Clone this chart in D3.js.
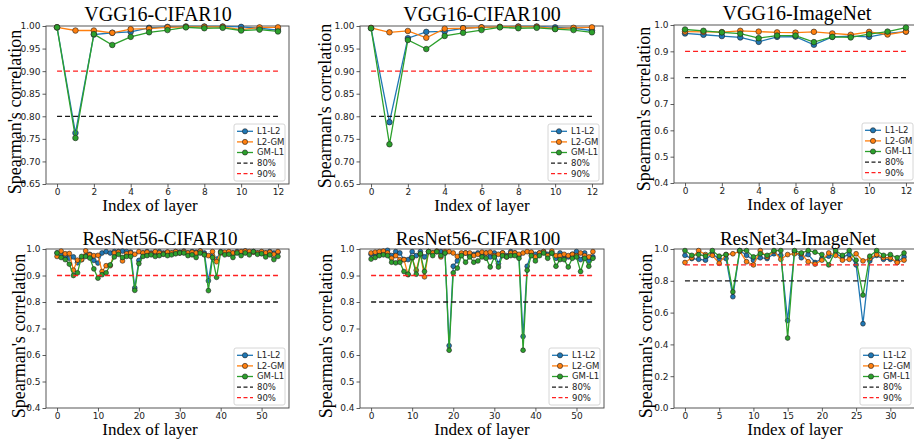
<!DOCTYPE html>
<html><head><meta charset="utf-8">
<script src="https://cdn.jsdelivr.net/npm/d3@7"></script>
<style>body{margin:0;background:#fff}svg{display:block}</style>
</head><body>
<svg id="c" width="914" height="439"></svg>
<script>
// ---------------- DATA ----------------
const seriesNames = ["L1-L2", "L2-GM", "GM-L1"];
const refNames = ["80%", "90%"];
const refValues = [0.8, 0.9];
const panelTitles = ["VGG16-CIFAR10", "VGG16-CIFAR100", "VGG16-ImageNet",
                     "ResNet56-CIFAR10", "ResNet56-CIFAR100", "ResNet34-ImageNet"];
const xAxisLabel = "Index of layer";
const yAxisLabel = "Spearman's correlation";

// VGG16-CIFAR10
const vggC10_L1L2 = [0.997,0.763,0.981,0.985,0.987,0.996,0.998,0.999,0.999,0.999,0.998,0.995,0.991];
const vggC10_L2GM = [0.997,0.990,0.990,0.985,0.993,0.994,0.997,0.998,0.998,0.998,0.992,0.997,0.997];
const vggC10_GML1 = [0.997,0.752,0.982,0.958,0.976,0.986,0.991,0.997,0.995,0.996,0.990,0.992,0.988];
// VGG16-CIFAR100
const vggC100_L1L2 = [0.995,0.787,0.973,0.987,0.988,0.995,0.997,0.998,0.999,0.999,0.997,0.995,0.990];
const vggC100_L2GM = [0.996,0.986,0.989,0.974,0.994,0.995,0.997,0.998,0.998,0.998,0.994,0.996,0.997];
const vggC100_GML1 = [0.995,0.738,0.969,0.949,0.978,0.985,0.991,0.997,0.995,0.996,0.993,0.991,0.986];
// VGG16-ImageNet
const vggIN_L1L2 = [0.968,0.963,0.958,0.953,0.936,0.955,0.956,0.925,0.955,0.958,0.955,0.968,0.975];
const vggIN_L2GM = [0.975,0.974,0.973,0.978,0.975,0.972,0.971,0.974,0.968,0.963,0.974,0.964,0.975];
const vggIN_GML1 = [0.983,0.978,0.972,0.967,0.950,0.960,0.960,0.935,0.955,0.953,0.965,0.975,0.990];
// ResNet56-CIFAR10
const r56C10_L1L2 = [0.985,0.980,0.975,0.965,0.970,0.948,0.960,0.975,0.980,0.957,0.947,0.985,0.990,0.985,0.990,0.990,0.992,0.990,0.988,0.853,
  0.957,0.985,0.990,0.985,0.988,0.990,0.985,0.988,0.985,0.990,0.988,0.992,0.985,0.990,0.988,0.992,0.985,0.880,0.975,0.962,
  0.990,0.985,0.988,0.985,0.990,0.988,0.992,0.985,0.990,0.985,0.988,0.985,0.990,0.985,0.988];
const r56C10_L2GM = [0.972,0.992,0.982,0.983,0.920,0.958,0.960,0.993,0.978,0.975,0.976,0.915,0.937,0.937,0.985,0.988,0.955,0.982,0.985,0.980,
  0.990,0.985,0.988,0.982,0.990,0.985,0.982,0.988,0.985,0.990,0.985,0.990,0.985,0.988,0.985,0.992,0.980,0.975,0.990,0.952,
  0.985,0.988,0.990,0.985,0.988,0.990,0.992,0.990,0.988,0.985,0.990,0.985,0.988,0.980,0.990];
const r56C10_GML1 = [0.985,0.968,0.960,0.943,0.900,0.910,0.972,0.972,0.966,0.925,0.890,0.903,0.910,0.940,0.970,0.980,0.968,0.972,0.972,0.844,
  0.945,0.972,0.975,0.978,0.972,0.975,0.980,0.975,0.978,0.982,0.985,0.985,0.975,0.978,0.968,0.985,0.978,0.843,0.968,0.893,
  0.988,0.978,0.980,0.968,0.985,0.975,0.985,0.978,0.990,0.980,0.982,0.970,0.978,0.960,0.972];
// ResNet56-CIFAR100
const r56C100_L1L2 = [0.980,0.980,0.985,0.990,0.995,0.975,0.990,0.985,0.960,0.960,0.990,0.975,0.990,0.970,0.990,0.985,0.990,0.990,0.985,0.635,
  0.935,0.955,0.980,0.985,0.975,0.980,0.985,0.975,0.985,0.970,0.985,0.945,0.985,0.975,0.990,0.985,0.975,0.670,0.935,0.985,
  0.980,0.985,0.990,0.980,0.985,0.965,0.985,0.975,0.970,0.980,0.990,0.960,0.985,0.955,0.970];
const r56C100_L2GM = [0.985,0.988,0.990,0.992,0.985,0.965,0.975,0.960,0.960,0.903,0.965,0.920,0.980,0.895,0.990,0.985,0.992,0.970,0.990,0.990,
  0.985,0.972,0.985,0.985,0.985,0.975,0.980,0.988,0.985,0.988,0.975,0.980,0.985,0.970,0.985,0.985,0.980,0.985,0.990,0.988,
  0.970,0.985,0.990,0.975,0.992,0.975,0.975,0.980,0.975,0.980,0.975,0.985,0.975,0.970,0.990];
const r56C100_GML1 = [0.962,0.968,0.975,0.978,0.975,0.950,0.948,0.950,0.915,0.905,0.968,0.905,0.982,0.915,0.990,0.975,0.990,0.975,0.985,0.618,
  0.910,0.928,0.975,0.950,0.970,0.950,0.955,0.970,0.965,0.932,0.970,0.932,0.975,0.970,0.975,0.975,0.965,0.618,0.920,0.975,
  0.955,0.975,0.985,0.965,0.985,0.935,0.960,0.960,0.932,0.965,0.970,0.915,0.965,0.935,0.965];
// ResNet34-ImageNet
const r34IN_L1L2 = [0.960,0.940,0.935,0.930,0.970,0.935,0.940,0.700,0.990,0.960,0.930,0.945,0.940,0.970,0.960,0.550,0.985,0.945,0.965,0.915,
  0.940,0.955,0.970,0.950,0.965,0.900,0.530,0.925,0.960,0.935,0.935,0.920,0.950];
const r34IN_L2GM = [0.915,0.945,0.990,0.965,0.960,0.910,0.965,0.970,0.985,0.920,0.900,0.990,0.950,0.985,0.935,0.965,0.970,0.970,0.920,0.905,
  0.930,0.975,0.960,0.930,0.935,0.970,0.925,0.940,0.965,0.945,0.945,0.915,0.930];
const r34IN_GML1 = [0.990,0.960,0.965,0.955,0.990,0.955,0.965,0.730,0.990,0.990,0.950,0.970,0.960,0.990,0.990,0.440,0.990,0.975,0.990,0.980,
  0.965,0.900,0.990,0.960,0.990,0.930,0.710,0.955,0.990,0.960,0.965,0.945,0.975];

// Tick values
const xTicksVGG = [0, 2, 4, 6, 8, 10, 12];
const xTicksR56 = [0, 10, 20, 30, 40, 50];
const xTicksR34 = [0, 5, 10, 15, 20, 25, 30];
const yTicksVGGCifar = [0.65, 0.70, 0.75, 0.80, 0.85, 0.90, 0.95, 1.00];
const yTicksPoint4 = [0.4, 0.5, 0.6, 0.7, 0.8, 0.9, 1.0];
const yTicksZero = [0.0, 0.2, 0.4, 0.6, 0.8, 1.0];

// ---------------- LAYOUT ----------------
const colors = ["#1f77b4", "#ff7f0e", "#2ca02c"];
const refColors = ["#1a1a1a", "#ff2020"];

const panels = [
  {title: panelTitles[0], data: [vggC10_L1L2, vggC10_L2GM, vggC10_GML1], xt: xTicksVGG, yt: yTicksVGGCifar, yd: [0.65, 1.0], fmt: ".2f",
   L: 46, R: 289, T: 26, B: 184, tx: 158, ty: 21, ylx: 21, yly: 112, xlx: 150, xly: 211, r: 2.8},
  {title: panelTitles[1], data: [vggC100_L1L2, vggC100_L2GM, vggC100_GML1], xt: xTicksVGG, yt: yTicksVGGCifar, yd: [0.65, 1.0], fmt: ".2f",
   L: 360, R: 603, T: 26, B: 184, tx: 482, ty: 21, ylx: 331, yly: 106, xlx: 482, xly: 211, r: 2.8},
  {title: panelTitles[2], data: [vggIN_L1L2, vggIN_L2GM, vggIN_GML1], xt: xTicksVGG, yt: yTicksPoint4, yd: [0.4, 1.0], fmt: ".1f",
   L: 674, R: 917, T: 25, B: 183, tx: 797, ty: 20, ylx: 650, yly: 109, xlx: 795, xly: 210, r: 2.8},
  {title: panelTitles[3], data: [r56C10_L1L2, r56C10_L2GM, r56C10_GML1], xt: xTicksR56, yt: yTicksPoint4, yd: [0.4, 1.0], fmt: ".1f",
   L: 46, R: 289, T: 249, B: 408, tx: 160, ty: 245, ylx: 25, yly: 336, xlx: 150, xly: 435, r: 2.4},
  {title: panelTitles[4], data: [r56C100_L1L2, r56C100_L2GM, r56C100_GML1], xt: xTicksR56, yt: yTicksPoint4, yd: [0.4, 1.0], fmt: ".1f",
   L: 360, R: 604, T: 249, B: 408, tx: 478, ty: 245, ylx: 332, yly: 336, xlx: 482, xly: 435, r: 2.4},
  {title: panelTitles[5], data: [r34IN_L1L2, r34IN_L2GM, r34IN_GML1], xt: xTicksR34, yt: yTicksZero, yd: [0.0, 1.0], fmt: ".1f",
   L: 674, R: 915, T: 249, B: 408, tx: 798, ty: 245, ylx: 652, yly: 336, xlx: 795, xly: 435, r: 2.4}
];

const svg = d3.select("#c");
const serif = "'Liberation Serif','Times New Roman',serif";
const sans = "'DejaVu Sans',sans-serif";

panels.forEach(p => {
  const n = p.data[0].length;
  const pad = (n - 1) * 0.05;
  const x = d3.scaleLinear().domain([-pad, n - 1 + pad]).range([p.L, p.R]);
  const y = d3.scaleLinear().domain(p.yd).range([p.B, p.T]);
  const g = svg.append("g");

  // axes
  const xa = g.append("g").attr("transform", `translate(0,${p.B})`)
    .call(d3.axisBottom(x).tickValues(p.xt).tickSize(3.5).tickPadding(1.5).tickFormat(d3.format("d")));
  const ya = g.append("g").attr("transform", `translate(${p.L},0)`)
    .call(d3.axisLeft(y).tickValues(p.yt).tickSize(3.5).tickPadding(2).tickFormat(d3.format(p.fmt)));
  [xa, ya].forEach(a => {
    a.select(".domain").remove();
    a.selectAll("line").attr("stroke", "#333").attr("stroke-width", 0.8);
    a.selectAll("text").attr("fill", "#222").style("font-family", sans).style("font-size", "9px");
  });

  // frame
  g.append("rect").attr("x", p.L).attr("y", p.T).attr("width", p.R - p.L).attr("height", p.B - p.T)
    .attr("fill", "none").attr("stroke", "#444").attr("stroke-width", 0.9);

  // series
  const line = d3.line().x((d, i) => x(i)).y(d => y(d));
  p.data.forEach((arr, k) => {
    const sg = g.append("g");
    sg.append("path").datum(arr).attr("d", line).attr("fill", "none")
      .attr("stroke", colors[k]).attr("stroke-width", 1.3);
    sg.selectAll("circle").data(arr).join("circle")
      .attr("cx", (d, i) => x(i)).attr("cy", d => y(d)).attr("r", p.r)
      .attr("fill", colors[k]).attr("stroke", "#222").attr("stroke-width", 0.6);
  });

  // reference lines
  refValues.forEach((v, k) => {
    g.append("path").datum([0, n - 1])
      .attr("d", d3.line().x(d => x(d)).y(() => y(v)))
      .attr("stroke", refColors[k]).attr("stroke-width", 1.3).attr("stroke-dasharray", "5,3").attr("fill", "none");
  });

  // legend
  const lw = 51, rowH = 10.6, lh = 5 * rowH + 4;
  const lx = Math.min(p.R, 917) - 4 - lw, ly = p.B - 3 - lh;
  const lg = g.append("g").attr("transform", `translate(${lx},${ly})`);
  lg.append("rect").attr("width", lw).attr("height", lh).attr("rx", 2)
    .attr("fill", "#fff").attr("fill-opacity", 0.85).attr("stroke", "#ccc").attr("stroke-width", 0.8);
  const entries = seriesNames.map((s, k) => ({name: s, color: colors[k], marker: true, dash: null}))
    .concat(refNames.map((s, k) => ({name: s, color: refColors[k], marker: false, dash: "4,2.5"})));
  entries.forEach((e, i) => {
    const cy = 2 + rowH / 2 + i * rowH;
    lg.append("line").attr("x1", 3).attr("x2", 19).attr("y1", cy).attr("y2", cy)
      .attr("stroke", e.color).attr("stroke-width", 1.3).attr("stroke-dasharray", e.dash);
    if (e.marker) lg.append("circle").attr("cx", 11).attr("cy", cy).attr("r", 2.6)
      .attr("fill", e.color).attr("stroke", "#222").attr("stroke-width", 0.6);
    lg.append("text").attr("x", 23).attr("y", cy).attr("dy", "0.35em").text(e.name)
      .style("font-family", sans).style("font-size", "8.5px").attr("fill", "#222");
  });

  // titles and labels
  g.append("text").attr("x", p.tx).attr("y", p.ty).attr("text-anchor", "middle").text(p.title)
    .style("font-family", serif).style("font-size", p.T < 100 ? "20px" : "19px").attr("fill", "#000");
  g.append("text").attr("x", p.xlx).attr("y", p.xly).attr("text-anchor", "middle").text(xAxisLabel)
    .style("font-family", serif).style("font-size", "17px").attr("fill", "#000");
  g.append("text").attr("transform", `translate(${p.ylx},${p.yly}) rotate(-90)`).attr("text-anchor", "middle")
    .text(yAxisLabel).style("font-family", serif).style("font-size", "18px").attr("fill", "#000");
});
</script>
</body></html>
